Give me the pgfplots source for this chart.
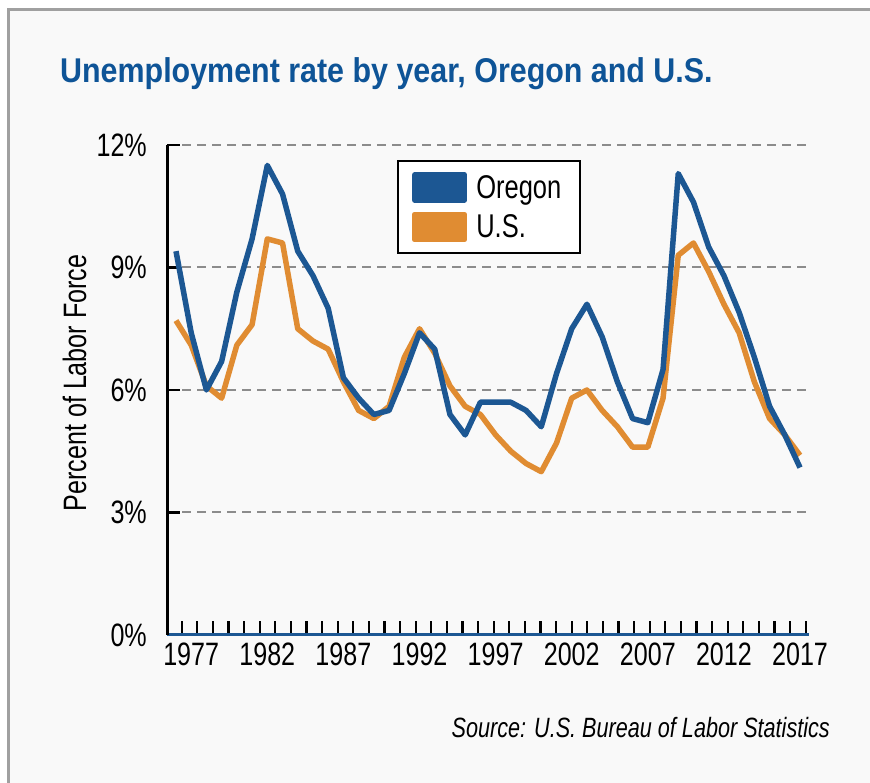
\documentclass[border=0pt]{standalone}
\usepackage{pgfplots}
\pgfplotsset{compat=1.18}
\usepackage{fontspec}
\setmainfont[FakeStretch=0.775]{Liberation Sans}
\newfontfamily\titlefont[FakeStretch=0.885]{Liberation Sans}

\definecolor{oregon}{HTML}{1C5793}
\definecolor{usorange}{HTML}{E08C32}
\definecolor{titleblue}{HTML}{0E5497}
\definecolor{panel}{HTML}{F9F9F9}
\definecolor{frame}{HTML}{A0A0A0}
\definecolor{gridgray}{HTML}{8C8C8C}

\begin{document}
\begin{tikzpicture}
\useasboundingbox (0,0) rectangle (870bp,783bp);
\fill[white] (0,0) rectangle (870bp,783bp);
\fill[panel] (8.5bp,0) rectangle (870bp,773bp);
\draw[frame, line width=3bp] (8.5bp,0) -- (8.5bp,773bp) -- (870bp,773bp);

\node[anchor=base west, inner sep=0pt, text=titleblue,
      font=\titlefont\bfseries\fontsize{34.5}{36}\selectfont]
  at (60bp,700bp) {Unemployment rate by year, Oregon and U.S.};

\node[anchor=base, rotate=90, inner sep=0pt, font=\fontsize{32.5}{33}\selectfont]
  at (86bp,400bp) {Percent of Labor Force};

\node[anchor=base east, inner sep=0pt, font=\itshape\fontsize{28}{28}\selectfont]
  at (830bp,45bp) {Source: U.S. Bureau of Labor Statistics};

\begin{axis}[
    at={(167bp,148bp)}, anchor=south west,
    scale only axis,
    width=642bp, height=490bp,
    xmin=1975.41, xmax=2017.59,
    ymin=0, ymax=12,
    axis x line*=bottom, axis y line*=left,
    x axis line style={draw=oregon, line width=3bp, -},
    y axis line style={draw=black, line width=3bp, -},
    tick align=inside,
    major tick length=13.5bp,
    xtick={1976.375,1977.4,...,2017.5},
    xticklabels={},
    xtick style={black, line width=2.2bp},
    extra x ticks={1977,1982,...,2017},
    extra x tick style={tick style={draw=none}},
    ytick={0,3,6,9,12},
    ytick style={black, line width=2.2bp},
    yticklabel={\pgfmathprintnumber{\tick}\%},
    /pgf/number format/assume math mode=true,
    /pgf/number format/1000 sep={},
    xticklabel style={font=\fontsize{32.5}{33}\selectfont, inner sep=0pt, yshift=-8bp, anchor=north},
    yticklabel style={font=\fontsize{32.5}{33}\selectfont, inner sep=0pt, xshift=-20bp, anchor=east},
    ymajorgrids,
    grid style={gridgray, line width=2bp, dash pattern=on 9bp off 6bp},
    legend style={
        at={(rel axis cs:0.358,0.969)}, anchor=north west,
        draw=black, line width=2bp, fill=white,
        inner xsep=14bp, inner ysep=11bp,
        row sep=9bp,
        nodes={inner sep=1bp},
        font=\fontsize{33}{33}\selectfont,
        /tikz/every odd column/.append style={column sep=8bp},
    },
    legend cell align=left,
    reverse legend,
]
\addplot[usorange, line width=5.5bp, line join=round,
    legend image code/.code={\fill[usorange] (0bp,-12.5bp) rectangle (50bp,12.5bp);}]
coordinates {
(1976,7.7) (1977,7.1) (1978,6.1) (1979,5.8) (1980,7.1) (1981,7.6) (1982,9.7)
(1983,9.6) (1984,7.5) (1985,7.2) (1986,7.0) (1987,6.2) (1988,5.5) (1989,5.3)
(1990,5.6) (1991,6.8) (1992,7.5) (1993,6.9) (1994,6.1) (1995,5.6) (1996,5.4)
(1997,4.9) (1998,4.5) (1999,4.2) (2000,4.0) (2001,4.7) (2002,5.8) (2003,6.0)
(2004,5.5) (2005,5.1) (2006,4.6) (2007,4.6) (2008,5.8) (2009,9.3) (2010,9.6)
(2011,8.9) (2012,8.1) (2013,7.4) (2014,6.2) (2015,5.3) (2016,4.9) (2017,4.4)
};
\addlegendentry{U.S.}
\addplot[oregon, line width=5.5bp, line join=round,
    legend image code/.code={\fill[oregon] (0bp,-12.5bp) rectangle (50bp,12.5bp);}]
coordinates {
(1976,9.4) (1977,7.4) (1978,6.0) (1979,6.7) (1980,8.4) (1981,9.7) (1982,11.5)
(1983,10.8) (1984,9.4) (1985,8.8) (1986,8.0) (1987,6.3) (1988,5.8) (1989,5.4)
(1990,5.5) (1991,6.4) (1992,7.4) (1993,7.0) (1994,5.4) (1995,4.9) (1996,5.7)
(1997,5.7) (1998,5.7) (1999,5.5) (2000,5.1) (2001,6.4) (2002,7.5) (2003,8.1)
(2004,7.3) (2005,6.2) (2006,5.3) (2007,5.2) (2008,6.5) (2009,11.3) (2010,10.6)
(2011,9.5) (2012,8.8) (2013,7.9) (2014,6.8) (2015,5.6) (2016,4.9) (2017,4.1)
};
\addlegendentry{Oregon\hspace*{4bp}}
\end{axis}
\end{tikzpicture}
\end{document}
